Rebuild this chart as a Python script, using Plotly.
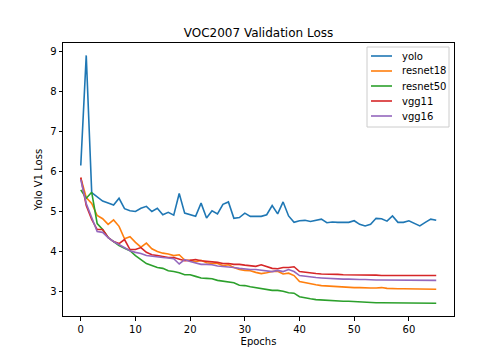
import plotly.graph_objects as go

epochs = list(range(66))

yolo = [6.15, 8.9, 5.47, 5.36, 5.26, 5.21, 5.16, 5.33, 5.07, 5.02,
        5.0, 5.08, 5.13, 5.0, 5.08, 4.92, 4.98, 4.91, 5.45, 4.96,
        4.92, 4.88, 5.21, 4.84, 5.02, 4.94, 5.18, 5.24, 4.83, 4.85,
        4.96, 4.88, 4.88, 4.88, 4.92, 5.15, 4.94, 5.24, 4.89, 4.73,
        4.77, 4.78, 4.75, 4.78, 4.81, 4.72, 4.74, 4.73, 4.73, 4.73,
        4.77, 4.68, 4.64, 4.68, 4.83, 4.82, 4.76, 4.89, 4.73, 4.73,
        4.77, 4.71, 4.64, 4.73, 4.81, 4.78]

resnet18 = [5.84, 5.35, 5.2, 4.9, 4.82, 4.68, 4.79, 4.63, 4.32, 4.37,
            4.23, 4.11, 4.21, 4.07, 4.0, 3.96, 3.94, 3.9, 3.92, 3.79,
            3.78, 3.75, 3.78, 3.72, 3.7, 3.7, 3.65, 3.67, 3.6, 3.55,
            3.53, 3.52, 3.48, 3.45, 3.47, 3.5, 3.51, 3.44, 3.46, 3.4,
            3.25, 3.22, 3.2, 3.17, 3.15, 3.14, 3.13, 3.13, 3.12, 3.11,
            3.1, 3.1, 3.09, 3.09, 3.09, 3.1, 3.08, 3.07, 3.07, 3.07,
            3.07, 3.06, 3.06, 3.06, 3.06, 3.06]

resnet50 = [5.54, 5.33, 5.48, 4.7, 4.55, 4.35, 4.25, 4.15, 4.08, 4.02,
            3.9, 3.8, 3.7, 3.65, 3.6, 3.58, 3.52, 3.5, 3.47, 3.42,
            3.42, 3.38, 3.34, 3.33, 3.32, 3.28, 3.26, 3.24, 3.22, 3.16,
            3.15, 3.12, 3.1, 3.07, 3.05, 3.03, 3.03, 3.01, 2.97, 2.96,
            2.87, 2.84, 2.82, 2.8, 2.79, 2.78, 2.78, 2.77, 2.76, 2.76,
            2.75, 2.74, 2.73, 2.73, 2.72, 2.72, 2.72, 2.72, 2.72, 2.72,
            2.72, 2.72, 2.71, 2.72, 2.71, 2.71]

vgg11 = [5.85, 5.15, 4.8, 4.55, 4.55, 4.35, 4.25, 4.2, 4.3, 4.05,
         4.05, 4.1, 3.98, 3.92, 3.9, 3.88, 3.85, 3.85, 3.8, 3.77,
         3.78, 3.8, 3.77, 3.76, 3.74, 3.73, 3.7, 3.7, 3.68, 3.68,
         3.66, 3.64, 3.63, 3.67, 3.63, 3.58, 3.57, 3.6, 3.6, 3.62,
         3.5, 3.48, 3.46, 3.45, 3.44, 3.44, 3.43, 3.43, 3.42, 3.42,
         3.42, 3.42, 3.41, 3.41, 3.41, 3.4, 3.4, 3.4, 3.4, 3.4,
         3.4, 3.4, 3.4, 3.4, 3.4, 3.4]

vgg16 = [5.8, 5.2, 4.85, 4.5, 4.48, 4.35, 4.25, 4.18, 4.1, 4.02,
         3.98, 3.95, 3.9, 3.88, 3.86, 3.85, 3.84, 3.82, 3.69, 3.8,
         3.75, 3.72, 3.68, 3.68, 3.67, 3.64, 3.63, 3.62, 3.6, 3.58,
         3.56, 3.55, 3.55, 3.53, 3.52, 3.5, 3.53, 3.5, 3.55, 3.5,
         3.4, 3.38, 3.36, 3.35, 3.34, 3.33, 3.32, 3.32, 3.31, 3.31,
         3.3, 3.3, 3.3, 3.29, 3.29, 3.29, 3.29, 3.28, 3.28, 3.28,
         3.28, 3.28, 3.28, 3.28, 3.28, 3.28]

series_names = ["yolo", "resnet18", "resnet50", "vgg11", "vgg16"]
series_values = [yolo, resnet18, resnet50, vgg11, vgg16]
series_colors = ["#1f77b4", "#ff7f0e", "#2ca02c", "#d62728", "#9467bd"]

fig = go.Figure()
for name, vals, col in zip(series_names, series_values, series_colors):
    fig.add_trace(go.Scatter(x=epochs, y=vals, mode="lines", name=name,
                             line=dict(color=col, width=1.6), showlegend=False))

# Custom matplotlib-style legend (compact spacing), in paper coordinates
# plot area in page pixels: x 63..454, y 43..316
PW, PH = 391.0, 273.0
def px(x):
    return (x - 63) / PW
def py(y):
    return (316 - y) / PH

shapes = [dict(type="rect", xref="paper", yref="paper",
               x0=px(367), x1=px(449), y0=py(127), y1=py(47),
               line=dict(color="#cccccc", width=1), fillcolor="rgba(255,255,255,0.8)",
               layer="above")]
annotations = []
for i, (name, col) in enumerate(zip(series_names, series_colors)):
    yc = 56 + 15 * i
    shapes.append(dict(type="line", xref="paper", yref="paper",
                       x0=px(371), x1=px(392), y0=py(yc), y1=py(yc),
                       line=dict(color=col, width=1.6), layer="above"))
    annotations.append(dict(xref="paper", yref="paper", x=px(400), y=py(yc),
                            text=name, showarrow=False, xanchor="left", yanchor="middle",
                            font=dict(size=10, color="black")))

axis_common = dict(showline=True, linecolor="black", linewidth=1, mirror=True,
                   ticks="outside", ticklen=3.5, tickcolor="black", showgrid=False,
                   zeroline=False, tickfont=dict(size=10, color="black"))

# page has an 8px body offset; margins compensate so the plot area sits at page 63..454 x 43..316
fig.update_layout(
    width=504, height=360,
    margin=dict(l=55, r=58, t=35, b=52),
    paper_bgcolor="white", plot_bgcolor="white",
    font=dict(family="DejaVu Sans", size=10, color="black"),
    title=dict(text="VOC2007 Validation Loss", x=0.5, xref="paper",
               y=1 - 25 / 360, yref="container", yanchor="middle",
               font=dict(size=12, color="black")),
    xaxis=dict(range=[-3.25, 68.25], tickvals=[0, 10, 20, 30, 40, 50, 60],
               title=dict(text="Epochs", font=dict(size=10), standoff=4), **axis_common),
    yaxis=dict(range=[2.39, 9.21], tickvals=[3, 4, 5, 6, 7, 8, 9],
               title=dict(text="Yolo V1 Loss", font=dict(size=10), standoff=5), **axis_common),
    shapes=shapes,
    annotations=annotations,
    showlegend=False,
)

fig.write_html("out.html")
